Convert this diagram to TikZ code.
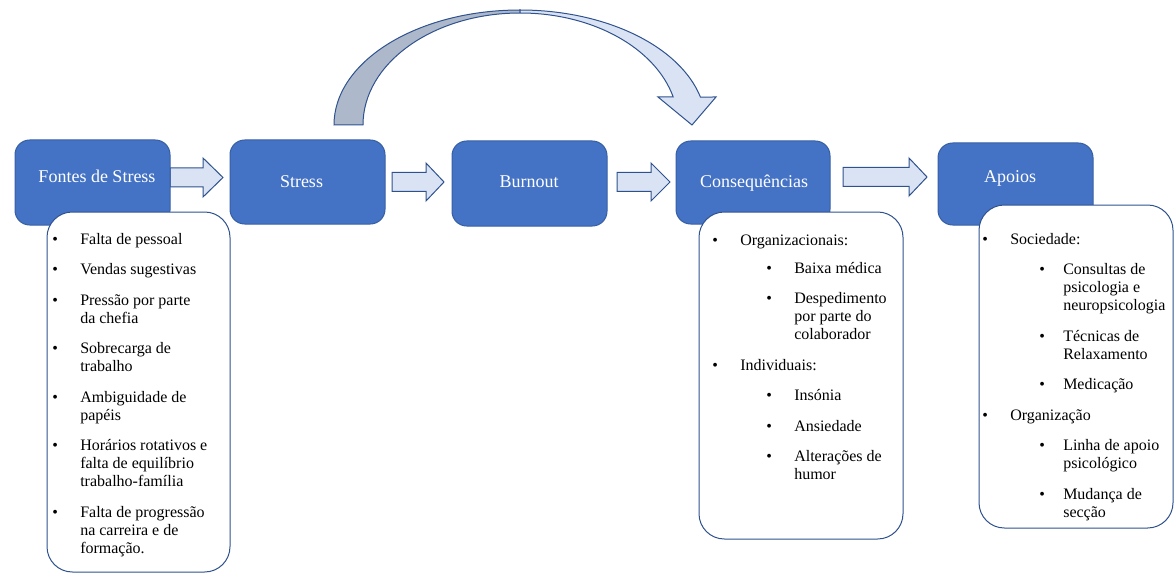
\documentclass[tikz,border=0pt]{standalone}
\usepackage{fontspec}
\setmainfont{Liberation Serif}
\definecolor{boxblue}{HTML}{4472C4}
\definecolor{edgeblue}{HTML}{2F528F}
\definecolor{lightblue}{HTML}{DAE3F3}
\definecolor{grayblue}{HTML}{ADB9CA}
\newcommand\bitem[3]{\hspace*{#1}\makebox[0pt]{•}\hspace*{#2}#3}
\newcommand\cont[2]{\hspace*{#1}#2}
\newcommand\gap{\\[9.375pt]}
\tikzset{
  bluebox/.style={draw=edgeblue!60!boxblue, fill=boxblue, rounded corners=11pt, line width=0.75pt, inner sep=0pt},
  listbox/.style={draw=edgeblue, fill=white, rounded corners=19pt, line width=0.75pt, inner sep=0pt},
  titletxt/.style={text=white, font=\fontsize{13.5}{16}\selectfont, inner sep=0pt, text height=9pt, text depth=0pt},
  listtxt/.style={font=\fontsize{12}{13.5}\selectfont, inner sep=0pt, anchor=base west},
  blockarrow/.style={draw=edgeblue, fill=lightblue, line width=0.75pt, line join=miter},
  curvegray/.style={draw=edgeblue, fill=grayblue, line width=0.75pt, line join=miter},
}
\begin{document}
\begin{tikzpicture}[x=0.75pt,y=0.75pt]
\useasboundingbox (0,0) rectangle (1174,-574);

% curved arrow (Stress -> Consequencias)
\draw[curvegray] (334,-125) arc[start angle=180, end angle=90, x radius=186, y radius=115]
  -- (520,-13) arc[start angle=90, end angle=180, x radius=157, y radius=112] -- cycle;
\draw[blockarrow] (520,-10) arc[start angle=90, end angle=14.09, x radius=186, y radius=115]
  -- (716,-97) -- (692,-125) -- (658,-97) -- (673.2,-97)
  arc[start angle=14.48, end angle=90, x radius=158, y radius=112] -- cycle;

% block arrows
\draw[blockarrow] (170,-168) -- (203,-168) -- (203,-158) -- (223,-177.5) -- (203,-197) -- (203,-187) -- (170,-187) -- cycle;
\draw[blockarrow] (392,-172.5) -- (426,-172.5) -- (426,-163) -- (444,-182) -- (426,-201) -- (426,-191.5) -- (392,-191.5) -- cycle;
\draw[blockarrow] (617,-172.5) -- (651,-172.5) -- (651,-163) -- (670,-182) -- (651,-201) -- (651,-191.5) -- (617,-191.5) -- cycle;
\draw[blockarrow] (843,-167.5) -- (909,-167.5) -- (909,-158) -- (927,-177) -- (909,-196) -- (909,-186.5) -- (843,-186.5) -- cycle;

% blue boxes
\node[bluebox, minimum width=116.25pt, minimum height=63.75pt] (b1) at (92.5,-182.5) {};
\node[bluebox, minimum width=116.25pt, minimum height=63pt] (b2) at (307.5,-182) {};
\node[bluebox, minimum width=116.25pt, minimum height=63.75pt] (b3) at (529.5,-183.5) {};
\node[bluebox, minimum width=115.5pt, minimum height=62.25pt] (b4) at (753,-182.5) {};
\node[bluebox, minimum width=116.25pt, minimum height=61.5pt] (b5) at (1015.5,-184) {};

\node[titletxt] (t1) at (97,-177) {Fontes de Stress};
\node[titletxt] (t2) at (301.5,-181) {Stress};
\node[titletxt] (t3) at (529,-181) {Burnout};
\node[titletxt] (t4) at (754,-181) {Consequências};
\node[titletxt] (t5) at (1010,-177) {Apoios};

% white list boxes
\node[listbox, minimum width=137.25pt, minimum height=270pt] (w1) at (138.5,-392) {};
\node[listbox, minimum width=153pt, minimum height=245.25pt] (w2) at (801,-375.5) {};
\node[listbox, minimum width=145.5pt, minimum height=242.25pt] (w3) at (1076,-366.5) {};

\node[listtxt] (l1) at (50,-244) {\begin{tabular}[t]{@{}l@{}}
\bitem{3.75pt}{18.75pt}{Falta de pessoal}\gap
\bitem{3.75pt}{18.75pt}{Vendas sugestivas}\gap
\bitem{3.75pt}{18.75pt}{Pressão por parte}\\
\cont{22.5pt}{da chefia}\gap
\bitem{3.75pt}{18.75pt}{Sobrecarga de}\\
\cont{22.5pt}{trabalho}\gap
\bitem{3.75pt}{18.75pt}{Ambiguidade de}\\
\cont{22.5pt}{papéis}\gap
\bitem{3.75pt}{18.75pt}{Horários rotativos e}\\
\cont{22.5pt}{falta de equilíbrio}\\
\cont{22.5pt}{trabalho-família}\gap
\bitem{3.75pt}{18.75pt}{Falta de progressão}\\
\cont{22.5pt}{na carreira e de}\\
\cont{22.5pt}{formação.}
\end{tabular}};

\node[listtxt] (l2) at (710,-245) {\begin{tabular}[t]{@{}l@{}}
\bitem{3.75pt}{18.75pt}{Organizacionais:}\\[7.5pt]
\bitem{44.25pt}{18.75pt}{Baixa médica}\gap
\bitem{44.25pt}{18.75pt}{Despedimento}\\
\cont{63pt}{por parte do}\\
\cont{63pt}{colaborador}\gap
\bitem{3.75pt}{18.75pt}{Individuais:}\gap
\bitem{44.25pt}{18.75pt}{Insónia}\gap
\bitem{44.25pt}{18.75pt}{Ansiedade}\gap
\bitem{44.25pt}{18.75pt}{Alterações de}\\
\cont{63pt}{humor}
\end{tabular}};

\node[listtxt] (l3) at (980,-244) {\begin{tabular}[t]{@{}l@{}}
\bitem{3.75pt}{18.75pt}{Sociedade:}\gap
\bitem{46.5pt}{15.75pt}{Consultas de}\\
\cont{62.25pt}{psicologia e}\\
\cont{62.25pt}{neuropsicologia}\gap
\bitem{46.5pt}{15.75pt}{Técnicas de}\\
\cont{62.25pt}{Relaxamento}\gap
\bitem{46.5pt}{15.75pt}{Medicação}\gap
\bitem{3.75pt}{18.75pt}{Organização}\gap
\bitem{46.5pt}{15.75pt}{Linha de apoio}\\
\cont{62.25pt}{psicológico}\gap
\bitem{46.5pt}{15.75pt}{Mudança de}\\
\cont{62.25pt}{secção}
\end{tabular}};
\end{tikzpicture}
\end{document}
